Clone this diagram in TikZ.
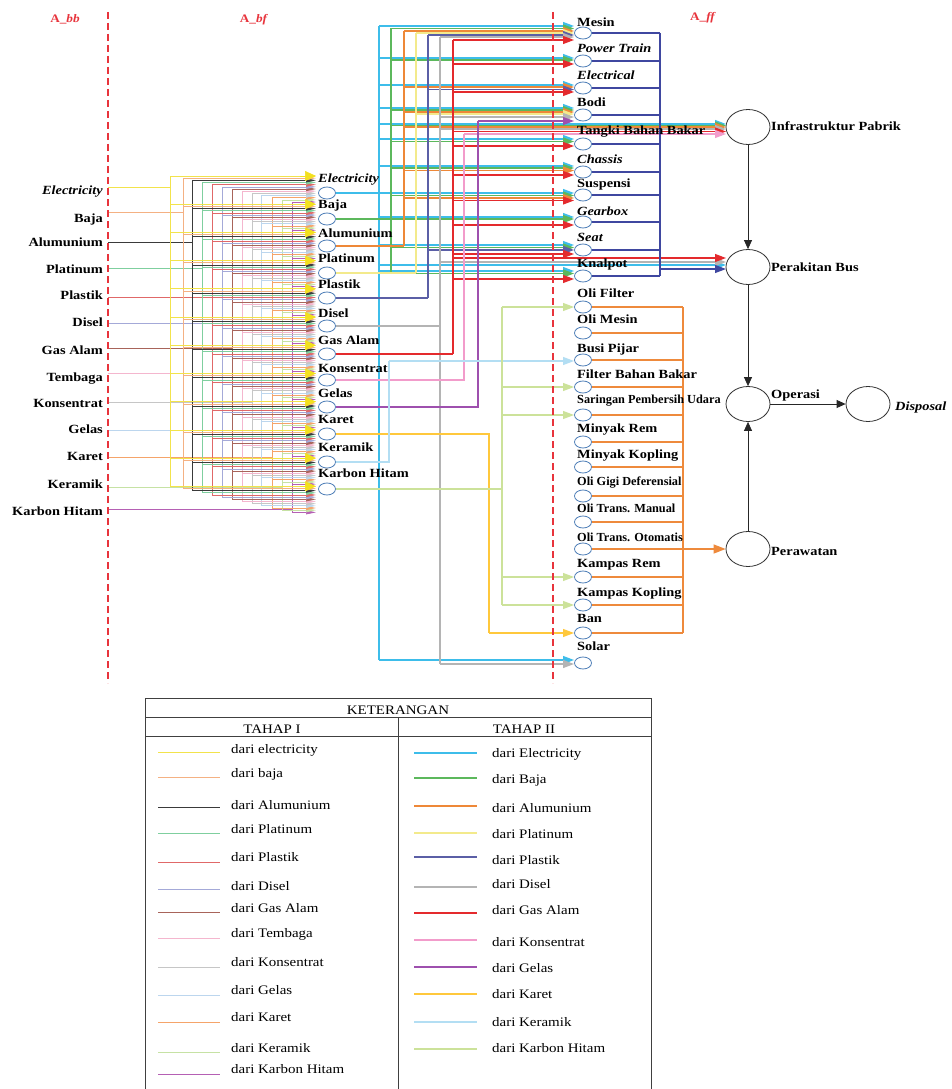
\documentclass[tikz,border=0pt]{standalone}
\usepackage{fontspec}
\setmainfont{Liberation Serif}[FakeStretch=1.15]
\newfontfamily\narrowfont{Liberation Serif}
\usetikzlibrary{arrows.meta,shapes.geometric}

\definecolor{aY}{HTML}{F2E34C}
\definecolor{aYt}{HTML}{F3E01E}
\definecolor{aB}{HTML}{F4B183}
\definecolor{aA}{HTML}{3A3A3A}
\definecolor{aP}{HTML}{7FCF9F}
\definecolor{aPl}{HTML}{E06868}
\definecolor{aD}{HTML}{A4A9D8}
\definecolor{aG}{HTML}{A8645A}
\definecolor{aT}{HTML}{F4B6CE}
\definecolor{aK}{HTML}{C6C6C6}
\definecolor{aGl}{HTML}{BCD6EE}
\definecolor{aKr}{HTML}{F5A46A}
\definecolor{aKe}{HTML}{C6E2A4}
\definecolor{aKH}{HTML}{B560B4}
\definecolor{bE}{HTML}{3DBDEA}
\definecolor{bB}{HTML}{5CB85C}
\definecolor{bA}{HTML}{EE8838}
\definecolor{bP}{HTML}{F3EA8C}
\definecolor{bPl}{HTML}{5B5FA6}
\definecolor{bD}{HTML}{B4B4B4}
\definecolor{bG}{HTML}{E42A2D}
\definecolor{bK}{HTML}{F29CCB}
\definecolor{bGl}{HTML}{9E50AE}
\definecolor{bKr}{HTML}{FFC83C}
\definecolor{bKe}{HTML}{B3DEF3}
\definecolor{bKH}{HTML}{CCE29A}
\definecolor{navy}{HTML}{3F47A0}
\definecolor{orng}{HTML}{EE8A3C}
\definecolor{dashred}{HTML}{E8343C}
\definecolor{circ}{HTML}{4F7FB8}

\newcommand{\nf}{\narrowfont\fontsize{12.3}{14}\selectfont}
\newcommand{\brII}[4]{\draw[t2,color=#1,tipII] (#2,#3) -- (#4,#3);}

\tikzset{
 lbl/.style={font=\fontsize{12.5}{14}\selectfont\bfseries, inner sep=0pt},
 lbll/.style={lbl, anchor=base east},
 lblr/.style={lbl, anchor=base west},
 sm/.style={ellipse, draw=circ, line width=0.8pt, fill=white, minimum width=17pt, minimum height=12pt, inner sep=0pt},
 big/.style={ellipse, draw=black!80, line width=0.8pt, fill=white, minimum width=44pt, minimum height=35pt, inner sep=0pt},
 t1/.style={line width=0.7pt},
 t2/.style={line width=1.1pt},
 tipI/.style={-{Triangle[length=10pt,width=4pt]}},
 tipY/.style={-{Triangle[length=11pt,width=10pt]}},
 tipII/.style={-{Triangle[length=11pt,width=8pt]}},
 flow/.style={line width=0.8pt, draw=black!85, -{Triangle[length=9pt,width=8pt]}},
 hdr/.style={font=\fontsize{11.5}{13}\selectfont\bfseries, text=dashred, anchor=base, inner sep=0pt},
 leg/.style={font=\fontsize{13}{15}\selectfont, anchor=base west, inner sep=0pt},
 tblline/.style={draw=black!75, line width=1pt},
 sepline/.style={dashred, line width=1.2pt, dash pattern=on 7pt off 4pt},
}

\begin{document}
\begin{tikzpicture}[x=1pt,y=-1pt]
\useasboundingbox (0,0) rectangle (951,1089);
\fill[white] (0,0) rectangle (951,1089);

% headers
\node[hdr] (h1) at (65,23) {A\_\textit{bb}};
\node[hdr] (h2) at (254,23) {A\_\textit{bf}};
\node[hdr] (h3) at (703,21) {A\_\textit{ff}};

% left source labels
\foreach \n/\t/\yb/\ys in {0/{\itshape Electricity}/194/187, 1/Baja/222/212, 2/Alumunium/246/242, 3/Platinum/273/268, 4/Plastik/299/297, 5/Disel/326/323, 6/Gas Alam/354/348, 7/Tembaga/381/373, 8/Konsentrat/407/402, 9/Gelas/433/430, 10/Karet/460/457, 11/Keramik/488/487, 12/Karbon Hitam/515/509}{
  \node[lbll] (L\n) at (103,\yb) {\t};
  \coordinate (s\n) at (108,\ys);
}

% Tahap I bundle
\foreach \k/\ys/\bx/\cl in {12/509/292/aKH, 11/487/282/aKe, 10/457/272/aKr, 9/430/261/aGl, 8/402/252/aK, 7/373/242/aT, 6/348/232/aG, 5/323/222/aD, 4/297/212/aPl, 3/268/202/aP, 2/242/192/aA, 1/212/183/aB, 0/187/170/aY}{
  \pgfmathsetmacro{\ya}{min(\ys,176+2.17*\k)}
  \pgfmathsetmacro{\yb}{max(\ys,176+2.17*(143+\k))}
  \draw[t1,color=\cl] (s\k) -- (\bx,\ys);
  \draw[t1,color=\cl] (\bx,\ya) -- (\bx,\yb);
  \foreach \j in {0,...,11}{
    \pgfmathsetmacro{\yy}{176+2.17*(13*\j+\k)}
    \draw[t1,color=\cl,tipI] (\bx,\yy) -- (316,\yy);
  }
}
\foreach \j in {0,...,11}{
  \pgfmathsetmacro{\yy}{176+2.17*13*\j}
  \draw[t1,color=aYt,tipY] (300,\yy) -- (316,\yy);
}

% middle circles
\foreach \n/\cy in {0/193, 1/219, 2/246, 3/273, 4/298, 5/326, 6/354, 7/380, 8/407, 9/434, 10/462, 11/489}{
  \node[sm] (m\n) at (327,\cy) {};
}
% right column circles
\foreach \n/\cy in {0/33, 1/61, 2/88, 3/115, 4/144, 5/172, 6/195, 7/222, 8/250, 9/276, 10/307, 11/333, 12/360, 13/387, 14/415, 15/442, 16/467, 17/496, 18/522, 19/549, 20/577, 21/605, 22/633, 23/663}{
  \node[sm] (r\n) at (583,\cy) {};
}

% big process nodes
\node[big] (infra) at (748,127) {};
\node[big] (perak) at (748,267) {};
\node[big] (oper) at (748,404) {};
\node[big] (disp) at (868,404) {};
\node[big] (peraw) at (748,549) {};
\node[lblr] (infraL) at (771,131) {Infrastruktur Pabrik};
\node[lblr] (perakL) at (771,271) {Perakitan Bus};
\node[lblr] (operL) at (771,398) {Operasi};
\node[lblr] (dispL) at (895,410) {\itshape Disposal};
\node[lblr] (perawL) at (771,555) {Perawatan};

% Tahap II: Electricity
\draw[t2,bE] (m0.east) -- (379,193);
\draw[t2,bE] (379,26) -- (379,660);
\foreach \y in {26,58,85,108,139,166,193,217,245,271,660}{\brII{bE}{379}{\y}{574}}
\foreach \y in {124,265}{\brII{bE}{379}{\y}{726}}
% Baja
\draw[t2,bB] (m1.east) -- (391,219);
\draw[t2,bB] (391,28.5) -- (391,273.5);
\foreach \y in {28.5,60,110,141.5,168,195.5,219,247.5,273.5}{\brII{bB}{391}{\y}{574}}
\brII{bB}{391}{125.5}{726}
% Alumunium
\draw[t2,bA] (m2.east) -- (404,246);
\draw[t2,bA] (404,31) -- (404,246);
\foreach \y in {31,87,112,170.5,198}{\brII{bA}{404}{\y}{574}}
\brII{bA}{404}{127}{726}
% Platinum
\draw[t2,bP] (m3.east) -- (416,273);
\draw[t2,bP] (416,33) -- (416,273);
\foreach \y in {33,114}{\brII{bP}{416}{\y}{574}}
% Plastik
\draw[t2,bPl] (m4.east) -- (428,298);
\draw[t2,bPl] (428,35) -- (428,298);
\foreach \y in {35,89.5,250}{\brII{bPl}{428}{\y}{574}}
% Disel
\draw[t2,bD] (m5.east) -- (440,326);
\draw[t2,bD] (440,37) -- (440,664);
\foreach \y in {37,117,664}{\brII{bD}{440}{\y}{574}}
\foreach \y in {129,262}{\brII{bD}{440}{\y}{726}}
% Gas Alam
\draw[t2,bG] (m6.east) -- (453,354);
\draw[t2,bG] (453,40) -- (453,354);
\foreach \y in {40,64,92,146,175,200.5,225,254,279}{\brII{bG}{453}{\y}{574}}
\foreach \y in {131.5,258}{\brII{bG}{453}{\y}{726}}
% Konsentrat
\draw[t2,bK] (m7.east) -- (464,380) -- (464,134);
\brII{bK}{464}{134}{726}
% Gelas
\draw[t2,bGl] (m8.east) -- (478,407) -- (478,121);
\brII{bGl}{478}{121}{574}
% Karet
\draw[t2,bKr] (m9.east) -- (489,434) -- (489,633);
\brII{bKr}{489}{633}{574}
% Keramik
\draw[t2,bKe] (m10.east) -- (389,462) -- (389,361);
\brII{bKe}{389}{361}{574}
% Karbon Hitam
\draw[t2,bKH] (m11.east) -- (502,489);
\draw[t2,bKH] (502,307) -- (502,605);
\foreach \y in {307,387,415,577,605}{\brII{bKH}{502}{\y}{574}}

% navy bus to Perakitan Bus
\foreach \n/\y in {0/33,1/61,2/88,3/115,4/144,5/172,6/195,7/222,8/250,9/276}{
  \draw[t2,navy] (r\n.east) -- (660,\y);
}
\draw[t2,navy] (660,33) -- (660,276);
\coordinate (nv) at (660,269);
\draw[t2,navy,tipII] (nv) -- (726,269);

% orange bus to Perawatan
\foreach \n/\y in {10/307,11/333,12/360,13/387,14/415,15/442,16/467,17/496,18/522,20/577,21/605,22/633}{
  \draw[t2,orng] (r\n.east) -- (683,\y);
}
\draw[t2,orng] (683,307) -- (683,633);
\draw[line width=1.3pt,orng,-{Triangle[length=12pt,width=9pt]}] (r19.east) -- (peraw.west);

% process flow
\draw[flow] (infra.south) -- (perak.north);
\draw[flow] (perak.south) -- (oper.north);
\draw[flow] (peraw.north) -- (oper.south);
\draw[flow] (oper.east) -- (disp.west);

% middle labels (on top of lines)
\foreach \n/\t/\yb in {0/{\itshape Electricity}/182, 1/Baja/208, 2/Alumunium/237, 3/Platinum/262, 4/Plastik/288, 5/Disel/317, 6/Gas Alam/344, 7/Konsentrat/372, 8/Gelas/397, 9/Karet/423, 10/Keramik/451, 11/Karbon Hitam/477}{
  \node[lblr] (ML\n) at (318,\yb) {\t};
}
% right labels (on top of lines)
\foreach \n/\t/\yb in {0/Mesin/27, 1/{\itshape Power Train}/53, 2/{\itshape Electrical}/80, 3/Bodi/107, 4/Tangki Bahan Bakar/135, 5/{\itshape Chassis}/163, 6/Suspensi/187, 7/{\itshape Gearbox}/215, 8/{\itshape Seat}/241, 9/Knalpot/267, 10/Oli Filter/297, 11/Oli Mesin/323, 12/Busi Pijar/352, 13/Filter Bahan Bakar/378, 14/{\nf Saringan Pembersih Udara}/403, 15/Minyak Rem/432, 16/Minyak Kopling/458, 17/{\nf Oli Gigi Deferensial}/485, 18/{\nf Oli Trans. Manual}/512, 19/{\nf Oli Trans. Otomatis}/541, 20/Kampas Rem/567, 21/Kampas Kopling/596, 22/Ban/622, 23/Solar/650}{
  \node[lblr] (RL\n) at (577,\yb) {\t};
}

% separators
\draw[sepline] (108,12) -- (108,683);
\draw[sepline] (553,12) -- (553,683);

% legend table
\draw[tblline] (145,1089) -- (145,698) -- (651,698) -- (651,1089);
\draw[tblline] (145,717) -- (651,717);
\draw[tblline] (145,736) -- (651,736);
\draw[tblline] (398,717) -- (398,1089);
\node[leg,anchor=base] (ket) at (398,714) {KETERANGAN};
\node[leg,anchor=base] (th1) at (272,733) {TAHAP I};
\node[leg,anchor=base] (th2) at (524,733) {TAHAP II};

\foreach \t/\ly/\tb/\cl [count=\n] in {dari electricity/752/753/aY, dari baja/777/777/aB, dari Alumunium/807/809/aA, dari Platinum/833/833/aP, dari Plastik/862/861/aPl, dari Disel/889/890/aD, dari Gas Alam/912/912/aG, dari Tembaga/938/937/aT, dari Konsentrat/967/966/aK, dari Gelas/995/994/aGl, dari Karet/1022/1021/aKr, dari Keramik/1052/1052/aKe, dari Karbon Hitam/1074/1073/aKH}{
  \draw[line width=0.9pt,color=\cl] (158,\ly) -- (220,\ly);
  \node[leg] (lga\n) at (231,\tb) {\t};
}
\foreach \t/\ly/\tb/\cl [count=\n] in {Electricity/753/757/bE, Baja/778/783/bB, Alumunium/806/812/bA, Platinum/833/838/bP, Plastik/857/864/bPl, Disel/887/888/bD, Gas Alam/913/914/bG, Konsentrat/940/946/bK, Gelas/967/972/bGl, Karet/994/998/bKr, Keramik/1022/1026/bKe, Karbon Hitam/1049/1052/bKH}{
  \draw[line width=1.3pt,color=\cl] (414,\ly) -- (477,\ly);
  \node[leg] (lgb\n) at (492,\tb) {dari \t};
}
\end{tikzpicture}
\end{document}
